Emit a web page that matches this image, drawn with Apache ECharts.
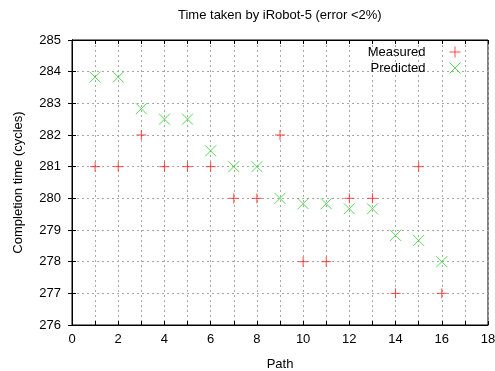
<!DOCTYPE html>
<html><head><meta charset="utf-8">
<script src="https://cdn.jsdelivr.net/npm/echarts@6/dist/echarts.min.js"></script>
<style>html,body{margin:0;padding:0;background:#fff}#c{width:495px;height:371px}</style>
</head><body><div id="c"></div>
<script>
const paths = [1,2,3,4,5,6,7,8,9,10,11,12,13,14,15,16];
const measured = [281,281,282,281,281,281,280,280,282,278,278,280,280,277,281,277];
const predicted = [283.83,283.83,282.83,282.5,282.5,281.5,281,281,280,279.83,279.83,279.67,279.67,278.83,278.67,278];
const titleText = 'Time taken by iRobot-5 (error <2%)';
const xName = 'Path', yName = 'Completion time (cycles)';
const seriesNames = ['Measured','Predicted'];

const plusPath = 'path://M0,5L10,5M5,0L5,10';
const crossPath = 'path://M0,0L10,10M0,10L10,0';
const red = '#ff2020', green = '#30d030';
const font = 'Liberation Sans, Arial, sans-serif';
const gridLine = {show:true, lineStyle:{color:'#a8a8a8', type:[2,3], width:1}};

const chart = echarts.init(document.getElementById('c'), null, {renderer:'canvas'});
chart.setOption({
  animation:false,
  backgroundColor:'#fff',
  title:{text:titleText, left:173, top:4,
    textStyle:{fontFamily:font, fontSize:13, fontWeight:'normal', color:'#000'}},
  legend:{orient:'vertical', right:27, top:39, align:'right', itemGap:0,
    itemWidth:11, itemHeight:11,
    textStyle:{fontFamily:font, fontSize:13, color:'#000', padding:[0,19,0,0]},
    data:[{name:seriesNames[0], icon:plusPath, itemStyle:{color:'none', borderColor:red, borderWidth:1}},
          {name:seriesNames[1], icon:crossPath, itemStyle:{color:'none', borderColor:green, borderWidth:1}}]},
  grid:{left:72, right:7, top:40, bottom:46, show:true, borderColor:'#000', borderWidth:1,
    outerBoundsMode:'none', containLabel:false},
  xAxis:[{type:'value', min:0, max:18, interval:1, position:'bottom',
    name:xName, nameLocation:'middle', nameGap:33,
    nameTextStyle:{fontFamily:font, fontSize:13, color:'#000'},
    axisLine:{show:true, lineStyle:{color:'#000'}},
    axisTick:{show:true, inside:true, length:4, lineStyle:{color:'#000'}},
    axisLabel:{fontFamily:font, fontSize:13, color:'#000', margin:8,
      formatter:v=> (v%2===0 ? String(v) : '')},
    splitLine:gridLine},
   {type:'value', min:0, max:18, interval:1, position:'top',
    axisLine:{show:true, lineStyle:{color:'#000'}},
    axisTick:{show:true, inside:true, length:4, lineStyle:{color:'#000'}},
    axisLabel:{show:false}, splitLine:{show:false}}],
  yAxis:[{type:'value', min:276, max:285, interval:1, position:'left',
    name:yName, nameLocation:'middle', nameGap:47, nameRotate:90,
    nameTextStyle:{fontFamily:font, fontSize:13, color:'#000'},
    axisLine:{show:true, lineStyle:{color:'#000'}},
    axisTick:{show:true, inside:true, length:4, lineStyle:{color:'#000'}},
    axisLabel:{fontFamily:font, fontSize:13, color:'#000', margin:11},
    splitLine:gridLine},
   {type:'value', min:276, max:285, interval:1, position:'right',
    axisLine:{show:true, lineStyle:{color:'#000'}},
    axisTick:{show:true, inside:true, length:4, lineStyle:{color:'#000'}},
    axisLabel:{show:false}, splitLine:{show:false}}],
  series:[
    {name:seriesNames[0], type:'scatter', symbol:plusPath, symbolSize:10,
     itemStyle:{color:'none', borderColor:red, borderWidth:1},
     data:paths.map((p,i)=>[p, measured[i]])},
    {name:seriesNames[1], type:'scatter', symbol:crossPath, symbolSize:11,
     itemStyle:{color:'none', borderColor:green, borderWidth:1},
     data:paths.map((p,i)=>[p, predicted[i]])}
  ]
});
</script></body></html>
